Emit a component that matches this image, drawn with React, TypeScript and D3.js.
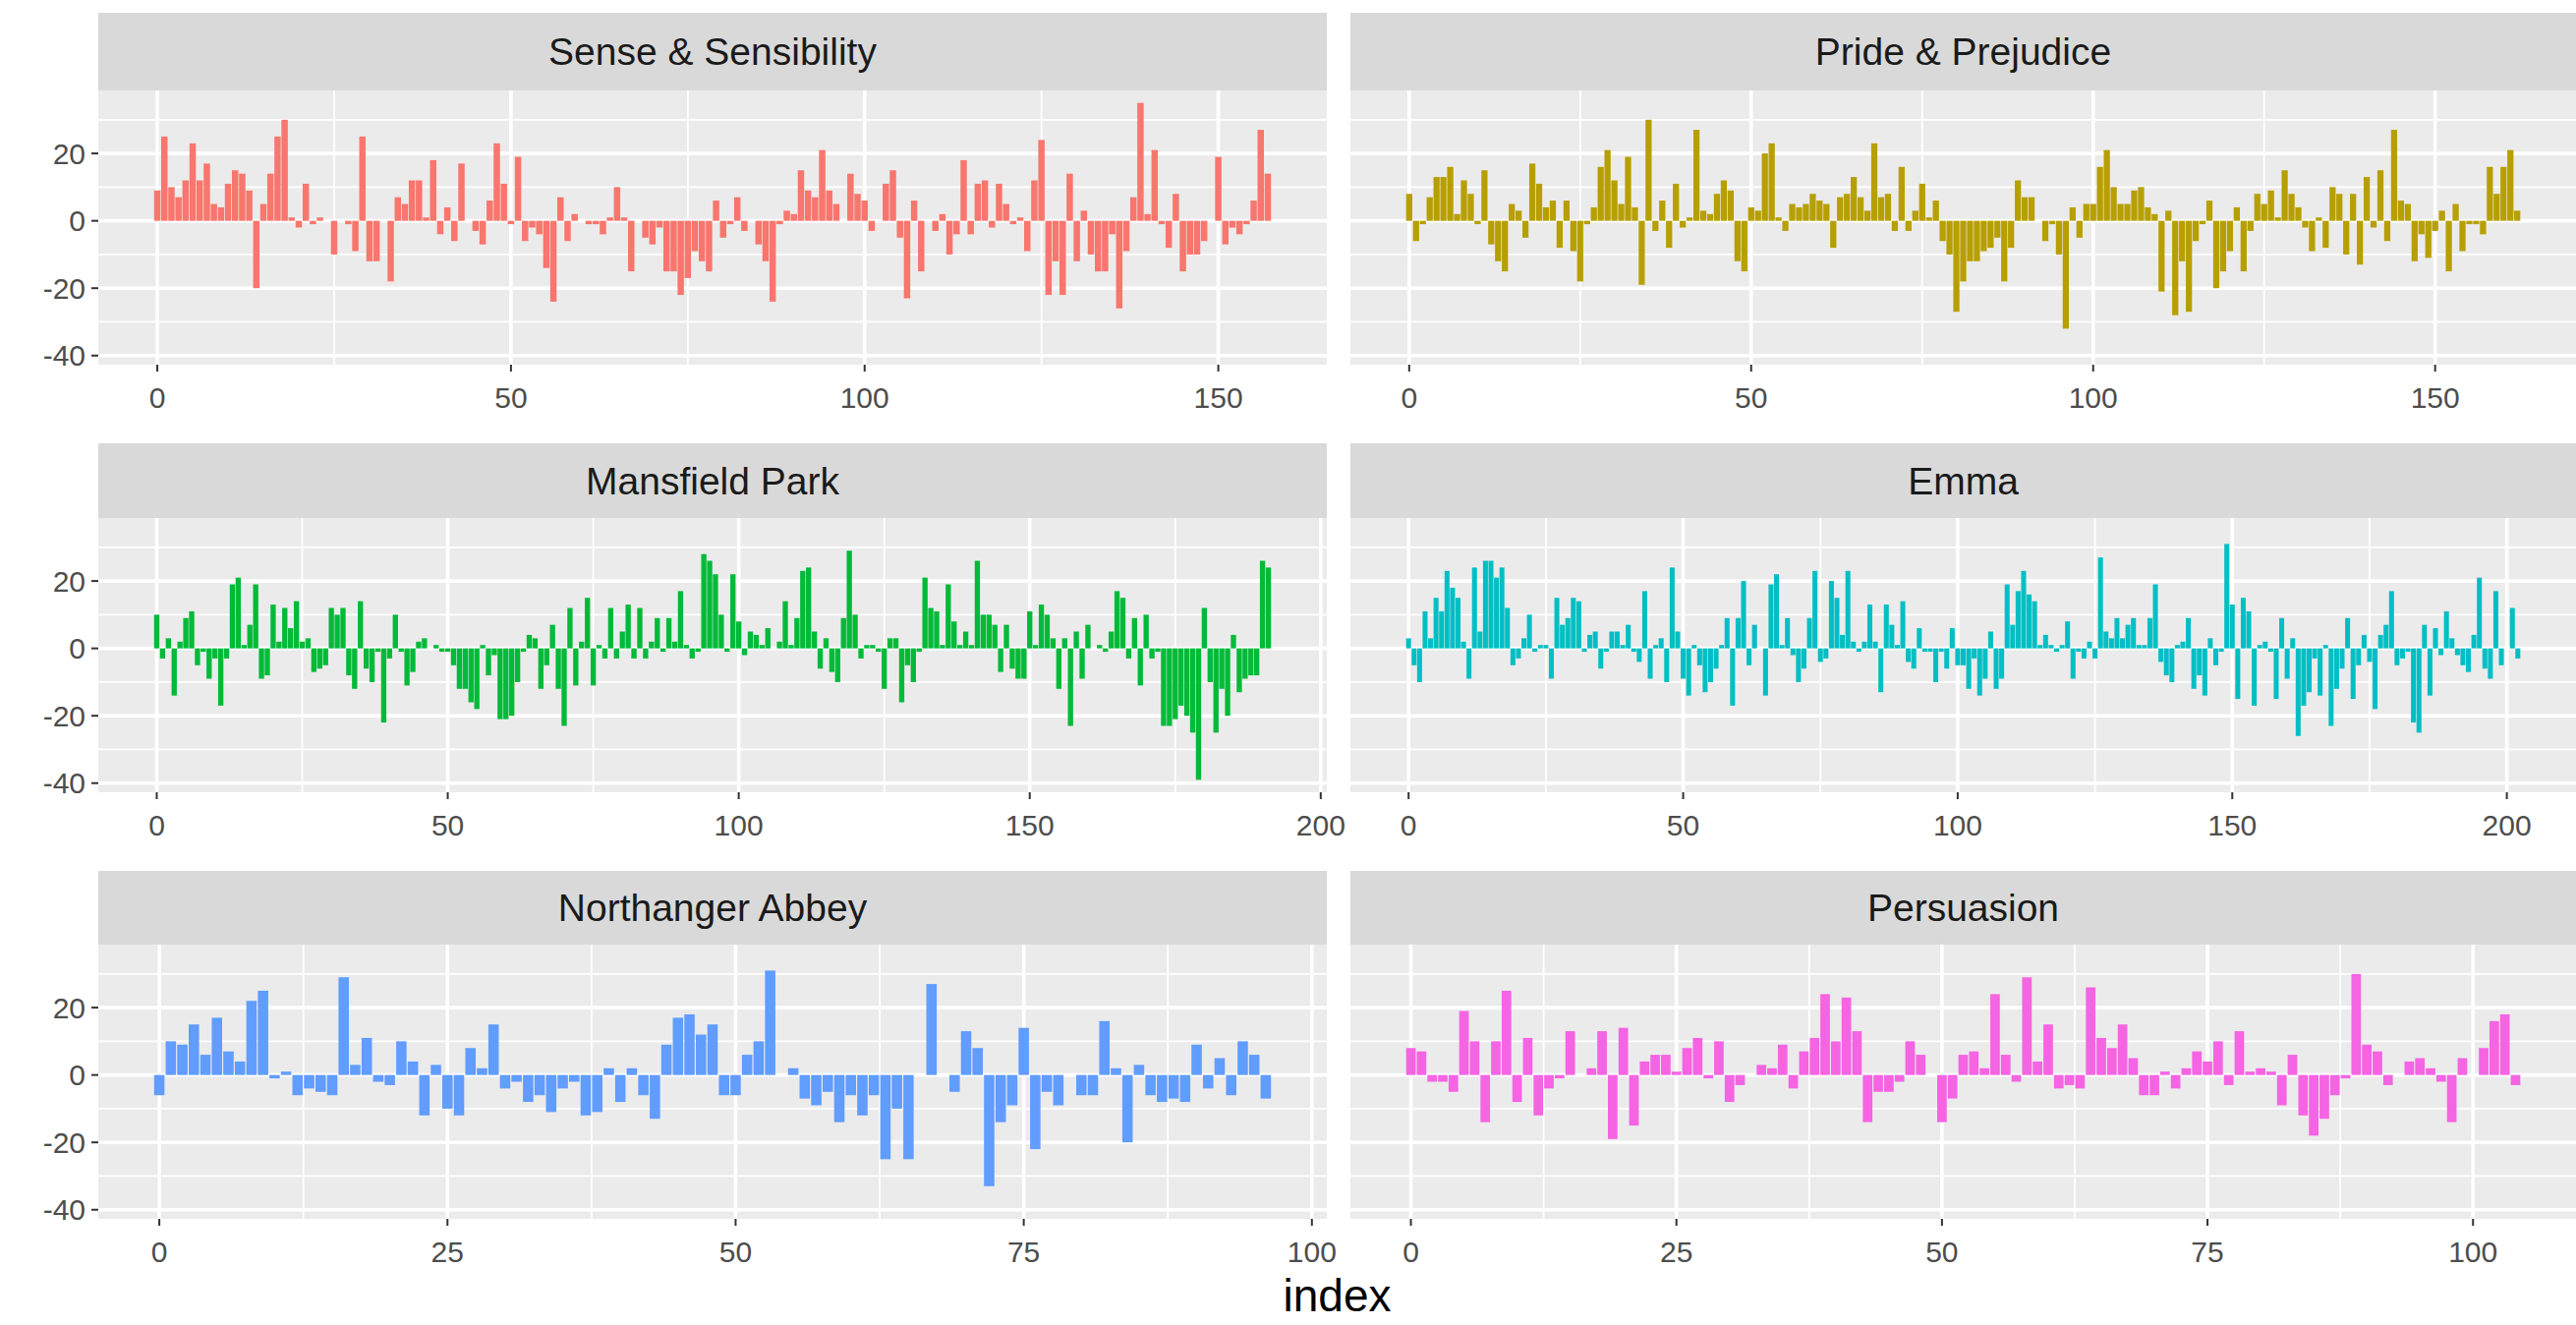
import React from "react";
import * as d3 from "d3";

// sentiment score per 80-line section, one array per novel
const books = [
  "Sense & Sensibility",
  "Pride & Prejudice",
  "Mansfield Park",
  "Emma",
  "Northanger Abbey",
  "Persuasion",
];
const colors = ["#F8766D", "#B79F00", "#00BA38", "#00BFC4", "#619CFF", "#F564E3"];

const sensibility = [
  9, 25, 10, 7, 12, 23, 12, 17, 5, 4, 11, 15, 14, 9, -20, 5, 14, 25, 30, 1,
  -2, 11, -1, 1, 0, -10, 0, -1, -9, 25, -12, -12, 0, -18, 7, 5, 12, 12, 1, 18,
  -4, 4, -6, 17, 0, -3, -7, 6, 23, 11, -1, 19, -6, -2, -4, -14, -24, 7, -6, 2,
  0, -1, -1, -4, 1, 10, 1, -15, 0, -5, -7, -2, -15, -15, -22, -17, -9, -12, -15, 6,
  -5, -1, 7, -3, 0, -7, -12, -24, -1, 3, 2, 15, 9, 7, 21, 9, 5, 0, 14, 8,
  6, -3, 0, 11, 15, -5, -23, 6, -15, 0, -3, 2, -10, -4, 18, -4, 11, 12, -2, 11,
  5, -1, 1, -9, 12, 24, -22, -12, -22, 14, -12, 3, -10, -15, -15, -4, -26, -9, 7, 35,
  2, 21, -1, -8, 8, -15, -10, -10, -6, 0, 19, -7, -2, -4, -1, 6, 27, 14,
];

const prejudice = [
  8, -6, -1, 7, 13, 13, 16, 2, 12, 8, -1, 15, -7, -12, -15, 5, 3, -5, 17, 11,
  4, 6, -8, 6, -9, -18, -1, 4, 16, 21, 12, 5, 19, 4, -19, 30, -3, 6, -8, 11,
  -2, 1, 27, 3, 2, 8, 12, 9, -12, -15, 4, 3, 20, 23, 1, -3, 5, 4, 5, 8,
  6, 5, -8, 7, 8, 13, 7, 3, 23, 7, 8, -3, 16, -3, 3, 11, 1, 6, -6, -10,
  -27, -18, -12, -12, -9, -8, -5, -18, -8, 12, 7, 7, 0, -6, -1, -10, -32, 4, -5, 5,
  5, 16, 21, 10, 5, 5, 9, 10, 4, 2, -21, 3, -28, -12, -27, -6, -1, 6, -20, -15,
  -9, 4, -15, -3, 8, 5, 9, 1, 15, 8, 4, -2, -9, 1, -8, 10, 8, -10, 8, -13,
  13, -2, 15, -6, 27, 6, 5, -12, -4, -11, -3, 3, -15, 5, -9, -1, -1, -4, 16, 8,
  16, 21, 3,
];

const mansfield = [
  10, -3, 3, -14, 2, 9, 11, -5, -1, -9, -3, -17, -3, 19, 21, 1, 7, 19, -9, -8,
  13, 2, 12, 6, 14, 2, 3, -7, -6, -5, 12, 10, 12, -8, -12, 14, -6, -10, -1, -22,
  -3, 10, -1, -11, -7, 2, 3, 0, 1, -1, -1, -5, -12, -12, -16, -18, 1, -8, -2, -21,
  -21, -20, -10, -1, 4, 3, -12, -5, 7, -12, -23, 12, -11, 2, 15, -11, 1, -3, 12, -3,
  5, 13, -3, 12, -3, 2, 9, -1, 9, 2, 17, 1, -3, -1, 28, 26, 22, 10, -1, 22,
  8, -2, 5, 4, 1, 6, 0, 2, 14, 1, 9, 23, 24, 5, -6, 3, -7, -10, 9, 29,
  10, -3, 1, 1, -1, -12, 3, 3, -16, -5, -10, -1, 21, 12, 11, 1, 19, 8, 1, 5,
  1, 26, 10, 10, 7, -7, 7, -6, -9, -9, 11, 1, 13, 10, 3, -12, 3, -23, 5, -9,
  7, 0, 1, -1, 5, 17, 15, -3, 9, -11, 10, -3, -1, -23, -23, -21, -17, -20, -25, -39,
  12, -10, -25, -12, -20, 4, -13, -9, -8, -8, 26, 24,
];

const emma = [
  3, -5, -10, 11, 3, 15, 11, 23, 18, 15, 2, -9, 24, 5, 26, 26, 21, 24, 12, -5,
  -3, 3, 10, -1, 1, 1, -9, 15, 7, 9, 15, 14, -1, 4, 5, -6, -1, 5, 5, 1,
  7, -1, -4, 17, -9, 1, 3, -10, 24, 5, -9, -14, 1, -5, -13, -10, -6, 1, 9, -17,
  9, 20, -5, 7, 0, -14, 19, 22, 1, 9, -2, -10, -6, 9, 23, -4, -3, 20, 15, 4,
  23, 2, -1, 2, 13, 2, -13, 13, 7, 1, 14, -4, -6, 6, -1, -1, -10, -1, -6, 6,
  -5, -5, -12, -3, -14, -9, 5, -12, -9, 19, 7, 17, 23, 16, 14, 1, 4, 1, -1, 1,
  8, -9, -1, -3, 2, -3, 27, 5, 3, 9, 3, 7, 9, 1, 1, 9, 19, -4, -8, -10,
  1, 2, 9, -12, -8, -14, 3, -5, -1, 31, 13, -15, 15, 11, -17, 1, 2, -1, -15, 9,
  -9, 3, -26, -17, -13, -3, -14, 1, -23, -12, -6, 9, -15, -5, 4, -4, -18, 4, 7, 17,
  -5, -3, -1, -22, -25, 7, -14, 6, -2, 11, 3, -2, -5, -7, 4, 21, -6, -9, 17, -5,
  0, 12, -3,
];

const northanger = [
  -6, 10, 9, 15, 6, 17, 7, 4, 22, 25, -1, 1, -6, -4, -5, -6, 29, 3, 11, -2,
  -3, 10, 4, -12, 3, -10, -12, 8, 2, 15, -4, -2, -8, -6, -11, -4, -2, -12, -11, 2,
  -8, 2, -6, -13, 9, 17, 18, 12, 15, -6, -6, 6, 10, 31, 0, 2, -7, -9, -5, -14,
  -6, -12, -6, -25, -10, -25, 0, 27, 0, -5, 13, 8, -33, -14, -9, 14, -22, -5, -9, 0,
  -6, -6, 16, 2, -20, 3, -6, -8, -7, -8, 9, -4, 5, -6, 10, 6, -7,
];

const persuasion = [
  8, 7, -2, -2, -5, 19, 10, -14, 10, 25, -8, 11, -12, -4, -1, 13, 0, 2, 13, -19,
  14, -15, 4, 6, 6, 1, 8, 11, -1, 10, -8, -3, 0, 3, 2, 9, -4, 7, 11, 24,
  10, 23, 13, -14, -5, -5, -2, 10, 6, 0, -14, -7, 6, 7, 2, 24, 6, -2, 29, 4,
  15, -4, -3, -4, 26, 11, 8, 15, 5, -6, -6, 1, -4, 2, 7, 4, 10, -3, 13, 1,
  2, 1, -9, 6, -12, -18, -13, -6, -1, 30, 9, 7, -3, 0, 4, 5, 2, -2, -14, 5,
  0, 8, 16, 18, -3,
];

const series = [sensibility, prejudice, mansfield, emma, northanger, persuasion];

// x tick labels per panel (free x scales)
const breaksBig = [0, 50, 100, 150];
const breaksLong = [0, 50, 100, 150, 200];
const breaksShort = [0, 25, 50, 75, 100];
const xBreaks = [breaksBig, breaksBig, breaksLong, breaksLong, breaksShort, breaksShort];
const yBreaks = [20, 0, -20, -40];

const W = 2621;
const H = 1348;
const cols = [
  [100, 1350],
  [1374, 2621],
];
const rows = [
  { strip: 13, top: 92, bottom: 371 },
  { strip: 451, top: 527, bottom: 806 },
  { strip: 886, top: 961, bottom: 1240 },
];
const font = "'Liberation Sans', Arial, Helvetica, sans-serif";
const tickSize = 30;
const stripSize = 39;
const titleSize = 46;

const minorOf = (br: number[], lo: number, hi: number) => {
  const step = br[1] - br[0];
  const ext = [br[0] - step, ...br, br[br.length - 1] + step];
  const out: number[] = [];
  for (let i = 0; i < ext.length - 1; i++) {
    const m = (ext[i] + ext[i + 1]) / 2;
    if (m >= lo && m <= hi) out.push(m);
  }
  return out;
};

const Panel = ({ k }: { k: number }) => {
  const values = series[k];
  const [x0, x1] = cols[k % 2];
  const r = rows[Math.floor(k / 2)];
  const n = values.length;
  const pad = 0.05 * (n - 1 + 0.9);
  const x = d3
    .scaleLinear()
    .domain([-0.45 - pad, n - 1 + 0.45 + pad])
    .range([x0, x1]);

  const all = series.flat();
  const [lo, hi] = d3.extent(all) as [number, number];
  const yPad = 0.05 * (hi - lo);
  const y = d3
    .scaleLinear()
    .domain([lo - yPad, hi + yPad])
    .range([r.bottom, r.top]);

  const [dx0, dx1] = x.domain();
  const [dy0, dy1] = y.domain();
  const xMinor = minorOf(xBreaks[k], dx0, dx1);
  const yMinor = minorOf(yBreaks.slice().reverse(), dy0, dy1);
  const bw = x(0.9) - x(0);

  return (
    <g>
      <rect x={x0} y={r.strip} width={x1 - x0} height={r.top - r.strip} fill="#D9D9D9" />
      <text
        x={(x0 + x1) / 2}
        y={(r.strip + r.top) / 2}
        dy="0.35em"
        textAnchor="middle"
        fontFamily={font}
        fontSize={stripSize}
        fill="#1A1A1A"
      >
        {books[k]}
      </text>
      <rect x={x0} y={r.top} width={x1 - x0} height={r.bottom - r.top} fill="#EBEBEB" />
      {yMinor.map((v) => (
        <line key={"ym" + v} x1={x0} x2={x1} y1={y(v)} y2={y(v)} stroke="#fff" strokeWidth={1.8} />
      ))}
      {xMinor.map((v) => (
        <line key={"xm" + v} x1={x(v)} x2={x(v)} y1={r.top} y2={r.bottom} stroke="#fff" strokeWidth={1.8} />
      ))}
      {yBreaks.map((v) => (
        <line key={"y" + v} x1={x0} x2={x1} y1={y(v)} y2={y(v)} stroke="#fff" strokeWidth={3.6} />
      ))}
      {xBreaks[k].map((v) => (
        <line key={"x" + v} x1={x(v)} x2={x(v)} y1={r.top} y2={r.bottom} stroke="#fff" strokeWidth={3.6} />
      ))}
      {values.map((v, i) => (
        <rect
          key={i}
          x={x(i) - bw / 2}
          width={bw}
          y={y(Math.max(0, v))}
          height={Math.abs(y(v) - y(0))}
          fill={colors[k]}
        />
      ))}
      {xBreaks[k].map((v) => (
        <g key={"xt" + v}>
          <line x1={x(v)} x2={x(v)} y1={r.bottom} y2={r.bottom + 7} stroke="#333" strokeWidth={2} />
          <text
            x={x(v)}
            y={r.bottom + 44}
            textAnchor="middle"
            fontFamily={font}
            fontSize={tickSize}
            fill="#4D4D4D"
          >
            {v}
          </text>
        </g>
      ))}
      {k % 2 === 0 &&
        yBreaks.map((v) => (
          <g key={"yt" + v}>
            <line x1={x0 - 7} x2={x0} y1={y(v)} y2={y(v)} stroke="#333" strokeWidth={2} />
            <text
              x={x0 - 13}
              y={y(v)}
              dy="0.35em"
              textAnchor="end"
              fontFamily={font}
              fontSize={tickSize}
              fill="#4D4D4D"
            >
              {v}
            </text>
          </g>
        ))}
    </g>
  );
};

export default function App() {
  return (
    <svg
      width={W}
      height={H}
      style={{ position: "absolute", left: 0, top: 0, background: "#fff" }}
    >
      <rect width={W} height={H} fill="#fff" />
      {books.map((b, k) => (
        <Panel key={b} k={k} />
      ))}
      <text
        x={(cols[0][0] + cols[1][1]) / 2}
        y={1334}
        textAnchor="middle"
        fontFamily={font}
        fontSize={titleSize}
        fill="#000"
      >
        index
      </text>
    </svg>
  );
}
